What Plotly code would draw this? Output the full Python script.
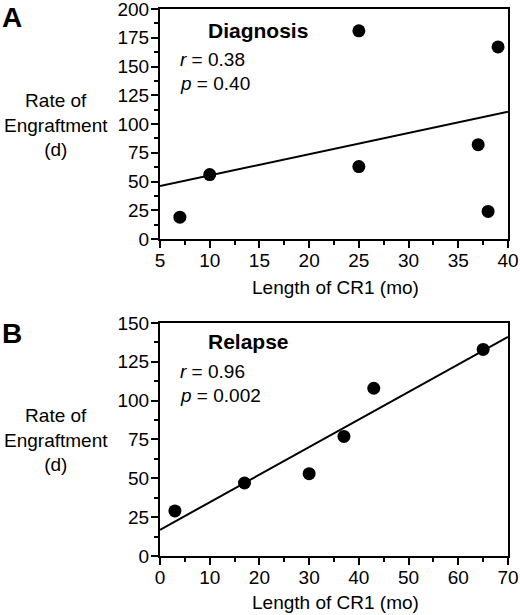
import numpy as np
import plotly.graph_objects as go
from plotly.subplots import make_subplots

# Panel A: Diagnosis
a_x = [7, 10, 25, 25, 37, 38, 39]
a_y = [19, 56, 181, 63, 82, 24, 167]
# Panel B: Relapse
b_x = [3, 17, 30, 37, 43, 65]
b_y = [29, 47, 53, 77, 108, 133]

a_xrange = [5, 40]
b_xrange = [0, 70]

FONT = "Arial, Liberation Sans, Helvetica, sans-serif"

fig = make_subplots(rows=2, cols=1, vertical_spacing=0.15)
fig.update_yaxes(domain=[0.5795, 1.0], row=1, col=1)
fig.update_yaxes(domain=[0.0, 0.426], row=2, col=1)

def add_panel(xs, ys, xr, row):
    k, b = np.polyfit(xs, ys, 1)
    lx = np.array(xr, dtype=float)
    fig.add_trace(go.Scatter(x=lx, y=k * lx + b, mode="lines",
                             line=dict(color="black", width=2),
                             showlegend=False, hoverinfo="skip"), row=row, col=1)
    fig.add_trace(go.Scatter(x=xs, y=ys, mode="markers",
                             marker=dict(color="black", size=13),
                             showlegend=False, cliponaxis=False), row=row, col=1)

add_panel(a_x, a_y, a_xrange, 1)
add_panel(b_x, b_y, b_xrange, 2)

axis_common = dict(showline=True, linecolor="black", linewidth=2, mirror=True,
                   ticks="outside", ticklen=7, tickwidth=1.5, tickcolor="black",
                   showgrid=False, zeroline=False, automargin=False,
                   ticklabeloverflow="allow",
                   tickfont=dict(family=FONT, size=19, color="black"))
minor_common = dict(ticks="outside", ticklen=4, tickwidth=1.5, tickcolor="black", showgrid=False)

fig.update_xaxes(range=a_xrange, dtick=5, tick0=5, ticklabelstandoff=-4,
                 minor=dict(dtick=2.5, **minor_common), row=1, col=1, **axis_common)
fig.update_yaxes(range=[0, 200], dtick=25, ticklabelstandoff=-2,
                 minor=dict(dtick=12.5, **minor_common), row=1, col=1, **axis_common)
fig.update_xaxes(range=b_xrange, dtick=10, ticklabelstandoff=-4,
                 minor=dict(dtick=5, **minor_common), row=2, col=1, **axis_common)
fig.update_yaxes(range=[0, 150], dtick=25, ticklabelstandoff=-2,
                 minor=dict(dtick=12.5, **minor_common), row=2, col=1, **axis_common)

txt = dict(family=FONT, size=19, color="black")
bold = dict(family=FONT, size=21, color="black", weight="bold")
ann = []
# Panel A texts
ann.append(dict(text="Diagnosis", x=9.6, y=181, xref="x", yref="y", xanchor="left",
                yanchor="middle", showarrow=False, font=bold))
ann.append(dict(text="<i>r</i> = 0.38", x=6.8, y=156, xref="x", yref="y", xanchor="left",
                yanchor="middle", showarrow=False, font=txt))
ann.append(dict(text="<i>p</i> = 0.40", x=6.8, y=135, xref="x", yref="y", xanchor="left",
                yanchor="middle", showarrow=False, font=txt))
# Panel B texts
ann.append(dict(text="Relapse", x=9.3, y=138, xref="x2", yref="y2", xanchor="left",
                yanchor="middle", showarrow=False, font=bold))
ann.append(dict(text="<i>r</i> = 0.96", x=3.6, y=118.6, xref="x2", yref="y2", xanchor="left",
                yanchor="middle", showarrow=False, font=txt))
ann.append(dict(text="<i>p</i> = 0.002", x=3.6, y=103, xref="x2", yref="y2", xanchor="left",
                yanchor="middle", showarrow=False, font=txt))
# Y titles
for yy in [0.788, 0.212]:
    ann.append(dict(text="Rate of<br>Engraftment<br>(d)", x=-0.30, y=yy, xref="paper", yref="paper",
                    xanchor="center", yanchor="middle", showarrow=False, font=txt, align="center"))
# X titles
for yy in [0.490, -0.0859]:
    ann.append(dict(text="Length of CR1 (mo)", x=0.503, y=yy, xref="paper", yref="paper",
                    xanchor="center", yanchor="middle", showarrow=False, font=txt))
# Panel letters
for lab, yy in [("A", 0.985), ("B", 0.406)]:
    ann.append(dict(text=lab, x=-0.425, y=yy, xref="paper", yref="paper",
                    xanchor="center", yanchor="middle", showarrow=False,
                    font=dict(family=FONT, size=28, color="black", weight="bold")))

fig.update_layout(width=520, height=615, margin=dict(l=160, r=12, t=9, b=59, autoexpand=False),
                  paper_bgcolor="white", plot_bgcolor="white", annotations=ann,
                  font=dict(family=FONT, color="black"))

fig.write_html("out.html", config={"displayModeBar": False},
               post_script="document.body.style.margin='0';document.body.style.padding='0';")
